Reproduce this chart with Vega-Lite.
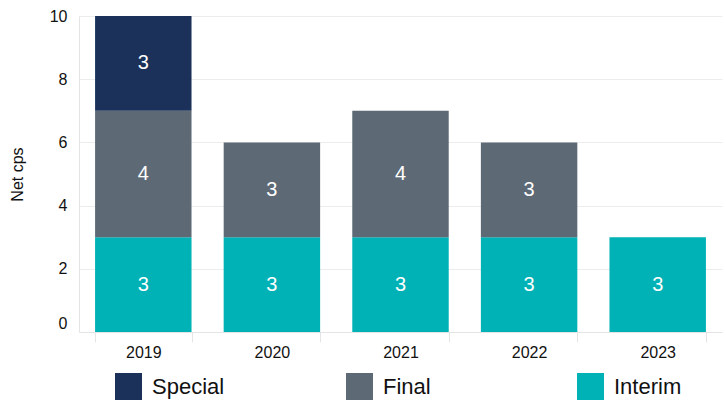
{
  "$schema": "https://vega.github.io/schema/vega-lite/v6.json",
  "width": 643,
  "height": 316,
  "autosize": {"type": "none"},
  "padding": {"left": 79, "top": 16, "right": 4, "bottom": 71},
  "background": "white",
  "config": {
    "font": "Liberation Sans",
    "view": {"stroke": null}
  },
  "data": {
    "values": [
      {"year": "2019", "type": "Interim", "value": 3},
      {"year": "2019", "type": "Final", "value": 4},
      {"year": "2019", "type": "Special", "value": 3},
      {"year": "2020", "type": "Interim", "value": 3},
      {"year": "2020", "type": "Final", "value": 3},
      {"year": "2021", "type": "Interim", "value": 3},
      {"year": "2021", "type": "Final", "value": 4},
      {"year": "2022", "type": "Interim", "value": 3},
      {"year": "2022", "type": "Final", "value": 3},
      {"year": "2023", "type": "Interim", "value": 3}
    ]
  },
  "transform": [
    {"calculate": "indexof(['Interim','Final','Special'], datum.type)", "as": "ord"},
    {"stack": "value", "groupby": ["year"], "sort": [{"field": "ord", "order": "ascending"}], "as": ["v0", "v1"]},
    {"calculate": "(datum.v0 + datum.v1) / 2", "as": "mid"}
  ],
  "encoding": {
    "x": {
      "field": "year",
      "type": "nominal",
      "title": null,
      "scale": {"paddingInner": 0.25, "paddingOuter": 0.125},
      "axis": {
        "labelAngle": 0,
        "labelFontSize": 16,
        "labelColor": "#111",
        "labelPadding": 2,
        "tickBand": "extent",
        "tickSize": 10,
        "tickColor": "#e4e4e4",
        "domainColor": "#e4e4e4",
        "grid": false
      }
    }
  },
  "layer": [
    {
      "mark": {"type": "bar"},
      "encoding": {
        "y": {
          "field": "v0",
          "type": "quantitative",
          "scale": {"domain": [0, 10], "nice": false},
          "title": "Net cps",
          "axis": {
            "values": [0, 2, 4, 6, 8, 10],
            "labelFontSize": 16,
            "labelColor": "#111",
            "titleFontSize": 16,
            "titleFontWeight": "normal",
            "titleColor": "#111",
            "titlePadding": 24,
            "labelPadding": 12,
            "ticks": false,
            "gridColor": "#ececec",
            "domainColor": "#e4e4e4",
            "labelOffset": {"condition": {"test": "datum.value === 0", "value": -9}, "value": 0}
          }
        },
        "y2": {"field": "v1"},
        "color": {
          "field": "type",
          "type": "nominal",
          "scale": {"domain": ["Special", "Final", "Interim"], "range": ["#1b3159", "#5d6a76", "#00b2b5"]},
          "legend": {
            "title": null,
            "orient": "none",
            "legendX": 36,
            "legendY": 357,
            "direction": "horizontal",
            "columns": 3,
            "gridAlign": "all",
            "columnPadding": 121,
            "symbolType": "square",
            "symbolSize": 729,
            "symbolStrokeWidth": 0,
            "labelFontSize": 22,
            "labelColor": "#111",
            "labelOffset": 10
          }
        }
      }
    },
    {
      "mark": {"type": "text", "color": "white", "fontSize": 20},
      "encoding": {
        "y": {"field": "mid", "type": "quantitative"},
        "text": {"field": "value", "type": "quantitative"}
      }
    }
  ]
}
